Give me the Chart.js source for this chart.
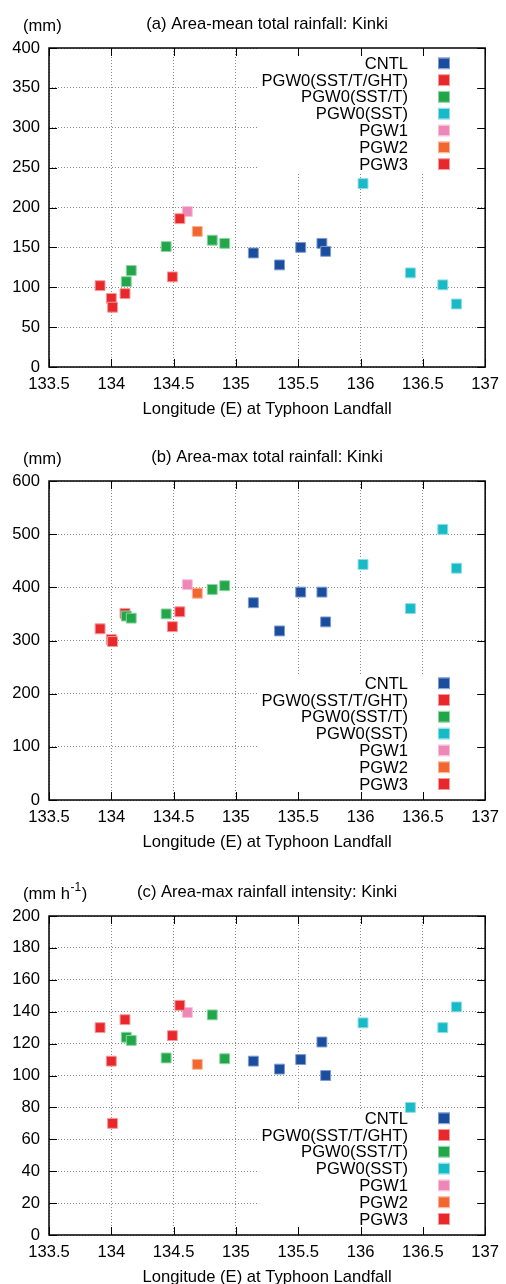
<!DOCTYPE html>
<html>
<head>
<meta charset="utf-8">
<script src="https://cdn.jsdelivr.net/npm/chart.js@4.4.1/dist/chart.umd.min.js"></script>
<style>
  html, body { margin: 0; padding: 0; background: #fff; overflow: hidden; }
  body { width: 506px; height: 1284px; position: relative; }
  canvas { position: absolute; left: 0; }
</style>
</head>
<body>
<canvas id="chartA" width="506" height="434" style="top:0px"></canvas>
<canvas id="chartB" width="506" height="434" style="top:433px"></canvas>
<canvas id="chartC" width="506" height="434" style="top:868px"></canvas>
<script>
// experiment names, in key order
const seriesNames = ['CNTL', 'PGW0(SST/T/GHT)', 'PGW0(SST/T)', 'PGW0(SST)', 'PGW1', 'PGW2', 'PGW3'];
const seriesColors = ['#1a4d9e', '#e8282b', '#21a649', '#17bac7', '#ee86b7', '#f26630', '#e8282b'];
const seriesEdges = ['#7f9bd0', '#f49a9b', '#8fd3a4', '#8ddde4', '#f6c3db', '#f8b398', '#f49a9b'];

// landfall longitude of each member (same for all panels)
const lonCNTL = [135.14, 135.35, 135.52, 135.69, 135.72];
const lonGHT = [133.91, 134.0, 134.01, 134.11, 134.49];
const lonSSTT = [134.12, 134.16, 134.44, 134.81, 134.91];
const lonSST = [136.02, 136.40, 136.66, 136.77];
const lonPGW1 = [134.61];
const lonPGW2 = [134.69];
const lonPGW3 = [134.55];

// (a) area-mean total rainfall (mm)
const meanCNTL = [143, 128, 150, 155, 145];
const meanGHT = [102, 86, 75, 92, 113];
const meanSSTT = [107, 121, 151, 159, 155];
const meanSST = [230, 118, 103, 79];
const meanPGW1 = [195];
const meanPGW2 = [170];
const meanPGW3 = [186];

// (b) area-max total rainfall (mm)
const maxCNTL = [371, 318, 391, 391, 335];
const maxGHT = [322, 302, 298, 351, 326];
const maxSSTT = [346, 342, 350, 396, 403];
const maxSST = [443, 360, 509, 436];
const maxPGW1 = [405];
const maxPGW2 = [389];
const maxPGW3 = [354];

// (c) area-max rainfall intensity (mm h-1)
const rateCNTL = [109, 104, 110, 121, 100];
const rateGHT = [130, 109, 70, 135, 125];
const rateSSTT = [124, 122, 111, 138, 110.5];
const rateSST = [133, 80, 130, 143];
const ratePGW1 = [139.5];
const ratePGW2 = [107];
const ratePGW3 = [144];

// tick labels
const xTicks = [133.5, 134, 134.5, 135, 135.5, 136, 136.5, 137];
const yTicksA = [0, 50, 100, 150, 200, 250, 300, 350, 400];
const yTicksB = [0, 100, 200, 300, 400, 500, 600];
const yTicksC = [0, 20, 40, 60, 80, 100, 120, 140, 160, 180, 200];

const lons = [lonCNTL, lonGHT, lonSSTT, lonSST, lonPGW1, lonPGW2, lonPGW3];

const FONT = "'Liberation Sans', Arial, Helvetica, sans-serif";
const FS = 16.6;
Chart.defaults.font.family = FONT;
Chart.defaults.font.size = FS;
Chart.defaults.color = '#000';

// gnuplot-like frame: key box, border with inward ticks, titles
const gnuFrame = {
    id: 'gnuFrame',
    beforeDatasetsDraw(chart, args, opts) {
        const ctx = chart.ctx;
        const area = chart.chartArea;
        const step = 16.8;
        let first;
        if (opts.key === 'top') {
            first = area.top + 15.3;
        } else {
            first = area.bottom - 16 - 6 * step;
        }
        const boxTop = opts.key === 'top' ? area.top : first - 9;
        const boxBottom = opts.key === 'top' ? first + 6 * step + 9 : area.bottom;

        ctx.save();
        ctx.fillStyle = '#fff';
        ctx.fillRect(258, boxTop, area.right - 258, boxBottom - boxTop);

        ctx.font = FS + 'px ' + FONT;
        ctx.textAlign = 'right';
        ctx.textBaseline = 'middle';
        for (let i = 0; i < seriesNames.length; i++) {
            const y = first + i * step;
            ctx.fillStyle = '#000';
            ctx.fillText(seriesNames[i], 408, y + 1);
            ctx.fillStyle = seriesColors[i];
            ctx.fillRect(439, y - 5, 10, 10);
            ctx.strokeStyle = seriesEdges[i];
            ctx.lineWidth = 1;
            ctx.strokeRect(438.5, y - 5.5, 11, 11);
        }
        ctx.restore();
    },
    afterDatasetsDraw(chart) {
        const ctx = chart.ctx;
        const area = chart.chartArea;
        const xs = chart.scales.x;
        const ys = chart.scales.y;
        const len = 8;
        ctx.save();
        ctx.strokeStyle = '#000';
        ctx.lineWidth = 1;
        ctx.beginPath();
        xs.ticks.forEach(t => {
            const px = Math.round(xs.getPixelForValue(t.value)) + 0.5;
            ctx.moveTo(px, area.bottom);
            ctx.lineTo(px, area.bottom - len);
            ctx.moveTo(px, area.top);
            ctx.lineTo(px, area.top + len);
        });
        ys.ticks.forEach(t => {
            const py = Math.round(ys.getPixelForValue(t.value)) + 0.5;
            ctx.moveTo(area.left, py);
            ctx.lineTo(area.left + len, py);
            ctx.moveTo(area.right, py);
            ctx.lineTo(area.right - len, py);
        });
        ctx.stroke();
        ctx.lineWidth = 1.5;
        ctx.strokeRect(area.left, area.top, area.right - area.left, area.bottom - area.top);
        ctx.restore();
    },
    afterDraw(chart, args, opts) {
        const ctx = chart.ctx;
        const area = chart.chartArea;
        ctx.save();
        ctx.fillStyle = '#000';
        ctx.textBaseline = 'middle';
        ctx.font = FS + 'px ' + FONT;
        ctx.textAlign = 'center';
        ctx.fillText(opts.title, (area.left + area.right) / 2, 24);

        // unit label, with optional superscript
        ctx.textAlign = 'left';
        let x = 23;
        ctx.fillText(opts.unit[0], x, 26);
        x += ctx.measureText(opts.unit[0]).width;
        if (opts.unit.length > 1) {
            ctx.font = '12px ' + FONT;
            ctx.fillText(opts.unit[1], x + 0.5, 20);
            x += ctx.measureText(opts.unit[1]).width + 1;
            ctx.font = FS + 'px ' + FONT;
            ctx.fillText(opts.unit[2], x, 26);
        }
        ctx.restore();
    }
};

function makeChart(canvasId, title, unit, values, yTicks, keyPos) {
    const datasets = seriesNames.map((name, i) => ({
        label: name,
        data: lons[i].map((lon, j) => ({ x: lon, y: values[i][j] })),
        backgroundColor: seriesColors[i],
        borderColor: seriesEdges[i],
        borderWidth: 1,
        pointStyle: 'rect',
        pointRadius: 7,
        order: seriesNames.length - i
    }));

    return new Chart(document.getElementById(canvasId), {
        type: 'scatter',
        data: { datasets: datasets },
        options: {
            responsive: false,
            animation: false,
            events: [],
            layout: { padding: { top: 48, right: 17, left: 0, bottom: 0 } },
            plugins: {
                legend: { display: false },
                tooltip: { enabled: false },
                gnuFrame: { title: title, unit: unit, key: keyPos }
            },
            scales: {
                x: {
                    type: 'linear',
                    min: xTicks[0],
                    max: xTicks[xTicks.length - 1],
                    afterBuildTicks: axis => { axis.ticks = xTicks.map(v => ({ value: v })); },
                    afterFit: axis => { axis.height = 67; },
                    ticks: { padding: 7, maxRotation: 0, autoSkip: false, callback: v => String(v) },
                    grid: { color: '#8c8c8c', lineWidth: 1, drawTicks: false },
                    border: { display: false, dash: [1, 2] },
                    title: {
                        display: true,
                        text: 'Longitude (E) at Typhoon Landfall',
                        font: { size: FS },
                        padding: { top: 0, bottom: 15 }
                    }
                },
                y: {
                    type: 'linear',
                    min: yTicks[0],
                    max: yTicks[yTicks.length - 1],
                    afterBuildTicks: axis => { axis.ticks = yTicks.map(v => ({ value: v })); },
                    afterFit: axis => { axis.width = 49; },
                    ticks: { padding: 9, autoSkip: false, callback: v => String(v) },
                    grid: { color: '#8c8c8c', lineWidth: 1, drawTicks: false },
                    border: { display: false, dash: [1, 2] }
                }
            }
        },
        plugins: [gnuFrame]
    });
}

makeChart('chartA', '(a) Area-mean total rainfall: Kinki', ['(mm)'],
    [meanCNTL, meanGHT, meanSSTT, meanSST, meanPGW1, meanPGW2, meanPGW3], yTicksA, 'top');
makeChart('chartB', '(b) Area-max total rainfall: Kinki', ['(mm)'],
    [maxCNTL, maxGHT, maxSSTT, maxSST, maxPGW1, maxPGW2, maxPGW3], yTicksB, 'bottom');
makeChart('chartC', '(c) Area-max rainfall intensity: Kinki', ['(mm h', '-1', ')'],
    [rateCNTL, rateGHT, rateSSTT, rateSST, ratePGW1, ratePGW2, ratePGW3], yTicksC, 'bottom');
</script>
</body>
</html>
